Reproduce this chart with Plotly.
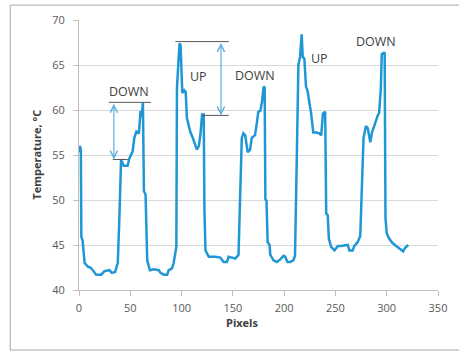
import plotly.graph_objects as go

# ---- data ----
pixels = [0, 1, 1.8, 2.3, 3.5, 5.5, 8.7, 11, 13.5, 16.8, 21.6, 24.9, 29.7, 32, 35.2, 37.8, 39.4, 40.3, 41,
          43.6, 47.4, 49, 52.3, 53.9, 56, 58.4, 59.4, 60, 61, 62.3, 63.3, 64.9, 66.5, 69.1, 73, 77.8, 79.4,
          82.6, 85.9, 87.5, 90.7, 92.3, 94.9, 95.5, 97.1, 98.1, 99, 99.7, 100.7, 102.6, 104, 105.2, 108.4,
          111, 113.2, 114.9, 116.8, 118.4, 120, 121.6, 122.3, 123.3, 126.5, 133, 137.8, 141, 144.2, 145.8,
          149, 152.3, 155.5, 157.2, 158.7, 160.3, 162, 164.5, 166.8, 168.4, 171.6, 173.2, 174.8, 176.8,
          178.4, 180, 181, 181.7, 182.8, 183.9, 185.8, 186.5, 189.7, 192.9, 196.2, 199.4, 201, 203.2,
          205.8, 209, 210.6, 212.3, 213.9, 215.5, 217.1, 218.1, 219.7, 221.3, 222.9, 224.6, 226.2, 228.4,
          231.6, 234.2, 236.2, 237.8, 240, 241, 242.5, 243.6, 245.8, 249.1, 252.3, 255.5, 262, 263.6,
          266.8, 268.4, 271.6, 274.2, 275.5, 277.4, 279.7, 281.5, 284, 285.6, 287.8, 289.4, 291, 292.6,
          294.2, 295.2, 297, 298, 298.8, 300, 302, 305, 308, 311, 314, 316, 318, 321]
temperature = [55.3, 56.0, 55.5, 45.9, 45.5, 43.0, 42.6, 42.5, 42.2, 41.7, 41.7, 42.1, 42.2, 41.9, 42.0, 43.0,
               48.1, 52.0, 54.5, 53.8, 53.8, 54.6, 55.4, 56.9, 57.6, 57.4, 58.8, 59.9, 59.2, 60.8, 51.0,
               50.6, 43.3, 42.2, 42.3, 42.2, 41.9, 41.7, 41.7, 42.2, 42.4, 43.0, 44.8, 62.4, 65.7, 67.4,
               67.2, 65.0, 61.9, 62.2, 62.0, 59.1, 57.6, 56.9, 56.2, 55.6, 56.0, 57.3, 59.5, 59.5, 48.8,
               44.4, 43.7, 43.7, 43.6, 43.1, 43.1, 43.7, 43.6, 43.5, 43.9, 51.0, 56.9, 57.4, 57.2, 55.3,
               55.6, 56.9, 57.2, 58.4, 59.8, 59.9, 60.9, 62.6, 62.5, 50.1, 49.9, 45.3, 45.0, 43.9, 43.3,
               43.1, 43.4, 43.8, 43.7, 43.1, 43.1, 43.3, 43.8, 54.5, 65.0, 65.9, 68.4, 65.9, 65.7, 62.6,
               62.1, 60.8, 59.7, 57.5, 57.5, 57.4, 57.2, 59.6, 59.8, 48.5, 48.3, 45.7, 44.8, 44.4, 44.9,
               44.9, 45.0, 44.4, 44.4, 44.9, 45.3, 46.0, 51.4, 56.9, 58.2, 58.0, 56.4, 57.5, 58.2, 58.8,
               59.3, 59.7, 62.2, 66.2, 66.3, 66.4, 48.0, 46.3, 45.8, 45.3, 45.0, 44.7, 44.5, 44.3, 44.7,
               45.0]

x_ticks = [0, 50, 100, 150, 200, 250, 300, 350]
y_ticks = [40, 45, 50, 55, 60, 65, 70]

label_texts = ["DOWN", "UP", "DOWN", "UP", "DOWN"]
label_x = [49, 116.8, 171.7, 234.6, 290]
label_y = [62.1, 63.7, 63.8, 65.7, 67.6]

# reference lines (x0, x1, y) and double arrows (x, y_top, y_bottom)
ref_lines = [(29, 70, 60.85), (33, 47.5, 54.5), (94, 146, 67.6), (120, 146, 59.4)]
arrows = [(34, 60.85, 54.5), (138.4, 67.6, 59.4)]

LINE_BLUE = "#1f97d4"
ARROW_BLUE = "#5aaee0"
FONT = "Open Sans"

fig = go.Figure()
fig.add_trace(go.Scatter(x=pixels, y=temperature, mode="lines",
                         line=dict(color=LINE_BLUE, width=2.5), showlegend=False,
                         hoverinfo="skip"))

for x0, x1, y in ref_lines:
    fig.add_shape(type="line", xref="x", yref="y", x0=x0, x1=x1, y0=y, y1=y,
                  line=dict(color="#595959", width=1))

for x, yt, yb in arrows:
    fig.add_annotation(x=x, y=yb, ax=x, ay=yt, xref="x", yref="y", axref="x", ayref="y",
                       showarrow=True, arrowhead=5, startarrowhead=5, arrowside="end+start",
                       arrowsize=1.2, startarrowsize=1.2, arrowwidth=1.2, arrowcolor=ARROW_BLUE, text="")

for t, x, y in zip(label_texts, label_x, label_y):
    fig.add_annotation(x=x, y=y, xref="x", yref="y", text=t, showarrow=False,
                       font=dict(family=FONT, size=12.5, color="#404040"))

# axis titles
fig.add_annotation(x=0.455, y=-0.121, xref="paper", yref="paper", text="<b>Pixels</b>",
                   showarrow=False, font=dict(family=FONT, size=11, color="#404040"),
                   xanchor="center", yanchor="middle")
fig.add_annotation(x=-0.1205, y=0.5, xref="paper", yref="paper", text="<b>Temperature, °C</b>",
                   showarrow=False, textangle=-90, font=dict(family=FONT, size=11, color="#404040"),
                   xanchor="center", yanchor="middle")

# outer chart frame (right edge lies beyond the visible canvas)
fig.add_shape(type="rect", xref="paper", yref="paper", x0=-0.1916, x1=1.2, y0=-0.2224, y1=1.0551,
              line=dict(color="#a6a6a6", width=1), layer="below")

fig.update_xaxes(range=[0, 350], tickvals=x_ticks, showgrid=False, zeroline=False,
                 showline=True, linecolor="#bfbfbf", linewidth=1,
                 ticks="outside", ticklen=5, tickcolor="#bfbfbf",
                 tickfont=dict(family=FONT, size=11, color="#595959"), ticklabelstandoff=3)
fig.update_yaxes(range=[40, 70], tickvals=y_ticks, showgrid=True, gridcolor="#d9d9d9", gridwidth=1,
                 zeroline=False, showline=True, linecolor="#bfbfbf", linewidth=1,
                 ticks="outside", ticklen=5, tickcolor="#bfbfbf",
                 tickfont=dict(family=FONT, size=11, color="#595959"), ticklabelstandoff=6)

fig.update_layout(width=459, height=352, margin=dict(l=79, r=18, t=18, b=62),
                  paper_bgcolor="white", plot_bgcolor="white", showlegend=False)

fig.write_html("out.html")
